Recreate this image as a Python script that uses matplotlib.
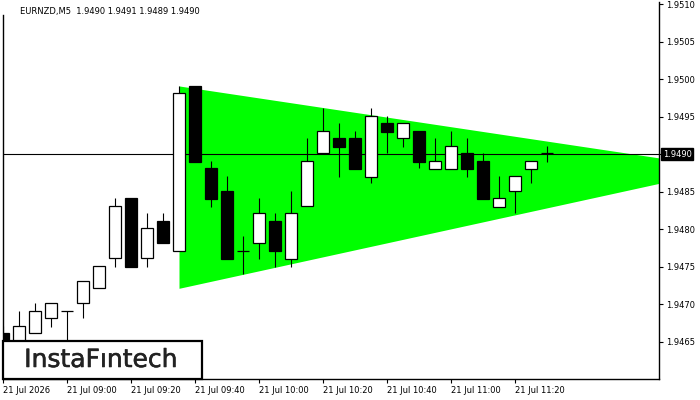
#!/usr/bin/python
import matplotlib.pyplot as plt
import matplotlib.transforms as mtransforms
import matplotlib.patheffects as pe
from matplotlib.patches import Rectangle

plt.rcParams['font.family'] = ['DejaVu Sans']

# EURNZD M5 candles, 08:40 .. 11:30
opens = [1.94661, 1.94640, 1.94661, 1.94681, 1.94691, 1.94701, 1.94721, 1.94761,
         1.94841, 1.94761, 1.94811, 1.94771, 1.94991, 1.94881, 1.94851, 1.94771,
         1.94781, 1.94811, 1.94760, 1.94831, 1.94901, 1.94921, 1.94921, 1.94869,
         1.94941, 1.94921, 1.94931, 1.94880, 1.94880, 1.94901, 1.94891, 1.94829,
         1.94851, 1.94880, 1.94901]
highs = [1.94671, 1.94691, 1.94701, 1.94701, 1.94691, 1.94731, 1.94751, 1.94841,
         1.94841, 1.94821, 1.94821, 1.94991, 1.94991, 1.94891, 1.94871, 1.94791,
         1.94841, 1.94821, 1.94851, 1.94921, 1.94961, 1.94941, 1.94931, 1.94961,
         1.94951, 1.94941, 1.94931, 1.94921, 1.94931, 1.94921, 1.94901, 1.94871,
         1.94871, 1.94891, 1.94911]
lows = [1.94620, 1.94620, 1.94661, 1.94669, 1.94620, 1.94681, 1.94721, 1.94749,
        1.94749, 1.94749, 1.94781, 1.94771, 1.94889, 1.94829, 1.94760, 1.94740,
        1.94760, 1.94749, 1.94749, 1.94831, 1.94901, 1.94869, 1.94880, 1.94861,
        1.94901, 1.94909, 1.94881, 1.94880, 1.94880, 1.94869, 1.94840, 1.94829,
        1.94821, 1.94861, 1.94889]
closes = [1.94630, 1.94671, 1.94691, 1.94701, 1.94691, 1.94731, 1.94751, 1.94831,
          1.94749, 1.94801, 1.94781, 1.94981, 1.94889, 1.94840, 1.94760, 1.94771,
          1.94821, 1.94771, 1.94821, 1.94891, 1.94931, 1.94909, 1.94880, 1.94951,
          1.94929, 1.94941, 1.94889, 1.94891, 1.94911, 1.94880, 1.94840, 1.94841,
          1.94871, 1.94891, 1.94901]

# symmetrical triangle pattern (bar index, price)
pattern_x = [11, 41]
pattern_upper = [1.94991, 1.94895]
pattern_lower = [1.94721, 1.94861]

current_price = 1.9490
price_ticks = [1.9465, 1.9470, 1.9475, 1.9480, 1.9485, 1.9490, 1.9495, 1.9500, 1.9505, 1.9510]
time_tick_idx = [0, 4, 8, 12, 16, 20, 24, 28, 32]
time_labels = ["21 Jul 2026", "21 Jul 09:00", "21 Jul 09:20", "21 Jul 09:40",
               "21 Jul 10:00", "21 Jul 10:20", "21 Jul 10:40", "21 Jul 11:00",
               "21 Jul 11:20"]
title = "EURNZD,M5  1.9490 1.9491 1.9489 1.9490"

fig = plt.figure(figsize=(7, 4), dpi=100)
ax = fig.add_axes([3 / 700, 21 / 400, 656 / 700, 377 / 400])

ax.fill_between(pattern_x, pattern_lower, pattern_upper, color="#00ff00", lw=0, zorder=1)
ax.axhline(current_price, color="black", lw=0.8, zorder=2)

idx = list(range(len(opens)))
ax.vlines(idx, lows, highs, color="black", lw=0.8, zorder=3)
bottoms = [min(o, c) for o, c in zip(opens, closes)]
heights = [abs(c - o) for o, c in zip(opens, closes)]
colors = ["white" if c >= o else "black" for o, c in zip(opens, closes)]
ax.bar(idx, heights, bottom=bottoms, width=0.69, color=colors,
       edgecolor="black", linewidth=0.9, zorder=4)

ax.set_xlim(0, 41)
ax.set_ylim(1.9460, 1.95103)

ax.spines["top"].set_visible(False)
ax.spines["left"].set_bounds(1.9460, 1.95085)
for s in ["left", "right", "bottom"]:
    ax.spines[s].set_linewidth(1.0)

# price scale; the 1.9490 level is shown in the black box instead
ax.yaxis.tick_right()
ax.set_yticks(price_ticks)
ax.set_yticklabels(["" if p == current_price else "%.4f" % p for p in price_ticks])
ax.tick_params(axis="y", direction="out", length=3, width=0.8, labelsize=6, pad=2)

ax.set_xticks(time_tick_idx)
ax.set_xticklabels(time_labels, ha="left")
ax.tick_params(axis="x", direction="out", length=3, width=0.8, labelsize=6, pad=2)

ax.text(17 / 656, 0.975, title, transform=ax.transAxes, fontsize=6,
        ha="left", va="center")

# current price box on the scale
trans = mtransforms.blended_transform_factory(ax.transAxes, ax.transData)
ax.text(1.006, current_price, "1.9490", transform=trans, fontsize=6, color="white",
        ha="left", va="center", zorder=10, clip_on=False,
        bbox=dict(boxstyle="square,pad=0.2", fc="black", ec="black"))

# logo box
fig.patches.append(Rectangle((3 / 700, 21 / 400), 199 / 700, 38 / 400,
                             transform=fig.transFigure, facecolor="white",
                             edgecolor="black", linewidth=1.6, zorder=20))
fig.text(101 / 700, 1 - 360 / 400, "InstaF\u0131ntech", fontsize=18,
         family=["DejaVu Sans"], color="#222222",
         ha="center", va="center", zorder=21,
         path_effects=[pe.withStroke(linewidth=0.4, foreground="#222222")])

plt.savefig("out.png", dpi=100)
